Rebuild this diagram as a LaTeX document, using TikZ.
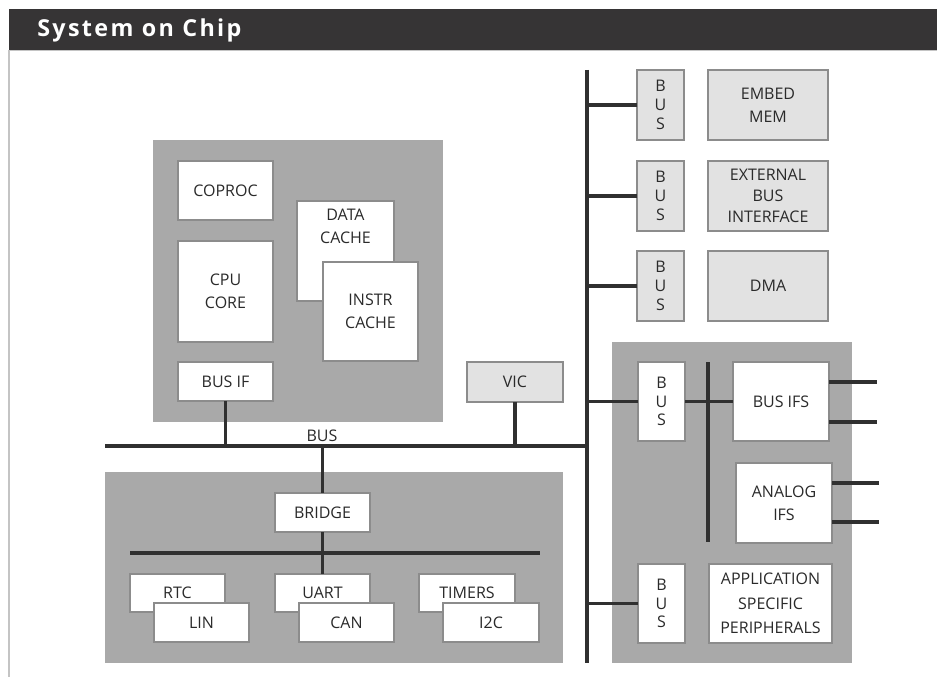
\documentclass[tikz,border=0pt]{standalone}
\usepackage{fontspec}
\setmainfont{Open Sans}
\usetikzlibrary{positioning}
\definecolor{barc}{HTML}{363435}
\definecolor{blockc}{HTML}{A9A9A9}
\definecolor{lightc}{HTML}{E2E2E2}
\definecolor{edgec}{HTML}{8C8C8C}
\definecolor{linec}{HTML}{303030}
\definecolor{txtc}{HTML}{2A2A2A}
\definecolor{framec}{HTML}{C4C4C4}
\newcommand\blk[7]{\node[#6, minimum width={(#4-#2)*0.75pt}, minimum height={(#5-#3)*0.75pt}, anchor=north west] (#1) at (#2,#3) {#7};}
\tikzset{
  base/.style={inner sep=0pt, outer sep=0pt, align=center, text=txtc,
    font=\fontsize{12pt}{17.25pt}\selectfont},
  wbox/.style={base, draw=edgec, line width=0.8pt, fill=white},
  lbox/.style={base, draw=edgec, line width=0.8pt, fill=lightc},
  busv/.style={base, font=\fontsize{12pt}{14pt}\selectfont},
  region/.style={inner sep=0pt, outer sep=0pt, fill=blockc, draw=none},
  busline/.style={draw=linec, line width=2.6pt},
}
\begin{document}
\begin{tikzpicture}[x=0.75pt,y=-0.75pt]
\useasboundingbox (0,0) rectangle (937,677);
\fill[white] (0,0) rectangle (937,677);
% title bar
\fill[barc] (9,9) rectangle (937,50);
\draw[framec, line width=0.8pt] (9,50.5) -- (937,50.5);
\draw[framec, line width=0.9pt] (9,50) -- (9,677);
\node[anchor=west, inner sep=0pt, text=white, font=\fontsize{17.5pt}{19pt}\selectfont\bfseries\addfontfeature{LetterSpace=10}] (title) at (37,30) {System on Chip};

% CPU region
\blk{cpu}{153}{140}{443}{422}{region}{}
\blk{coproc}{178}{161}{273}{220}{wbox}{COPROC}
\blk{cpucore}{178}{241}{273}{342}{wbox}{CPU\\CORE}
\blk{busif}{178}{362}{273}{401}{wbox}{BUS IF}
\blk{dcache}{297}{201}{394}{301}{wbox, label={[base, anchor=north, yshift=-6pt]north:DATA\\CACHE}}{}
\blk{icache}{323}{262}{418}{361}{wbox}{INSTR\\CACHE}
\blk{vic}{467}{362}{563}{402}{lbox}{VIC}

% main bus
\coordinate (busW) at (105,446);
\coordinate (busE) at (587,446);
\coordinate (vtop) at (587,70);
\coordinate (vbot) at (587,663);
\draw[busline] (busW) -- (busE);
\draw[busline] (vtop) -- (vbot);
\node[base, anchor=south] (buslbl) at (322,442) {BUS};
\draw[busline] (busif.south) -- (busif.south |- busW);
\draw[busline] (vic.south) -- (vic.south |- busW);

% peripheral region
\blk{per}{105}{472}{563}{663}{region}{}
\blk{bridge}{275}{493}{370}{532}{wbox}{BRIDGE}
\coordinate (pbW) at (130,553);
\coordinate (pbE) at (540,553);
\draw[busline] (bridge.north |- busW) -- (bridge.north);
\draw[busline] (pbW) -- (pbE);
\blk{rtc}{130}{574}{225}{612}{wbox}{RTC}
\blk{lin}{154}{603}{249}{642}{wbox}{LIN}
\blk{uart}{275}{574}{370}{612}{wbox}{UART}
\blk{can}{299}{603}{394}{642}{wbox}{CAN}
\blk{timers}{419}{574}{515}{612}{wbox}{TIMERS}
\blk{iic}{443}{603}{539}{642}{wbox}{I2C}
\draw[busline] (bridge.south) -- (uart.north);

% right column
\blk{bus1}{637}{70}{684}{140}{lbox,busv}{B\\U\\S}
\blk{bus2}{637}{161}{684}{231}{lbox,busv}{B\\U\\S}
\blk{bus3}{637}{251}{684}{321}{lbox,busv}{B\\U\\S}
\blk{mem}{708}{70}{828}{140}{lbox}{EMBED\\MEM}
\blk{ebi}{708}{161}{828}{231}{lbox, font=\fontsize{12pt}{16pt}\selectfont}{EXTERNAL\\BUS\\INTERFACE}
\blk{dma}{708}{251}{828}{321}{lbox}{DMA}
\draw[busline] (bus1.west) -- (bus1.west -| vtop);
\draw[busline] (bus2.west) -- (bus2.west -| vtop);
\draw[busline] (bus3.west) -- (bus3.west -| vtop);

% I/O region
\blk{io}{612}{342}{852}{663}{region}{}
\blk{bus4}{638}{362}{685}{441}{wbox,busv}{B\\U\\S}
\blk{busifs}{733}{362}{829}{441}{wbox}{BUS IFS}
\blk{analog}{736}{463}{832}{543}{wbox}{ANALOG\\IFS}
\blk{bus5}{638}{564}{685}{643}{wbox,busv}{B\\U\\S}
\blk{asp}{709}{564}{832}{643}{wbox, font=\fontsize{12pt}{18.4pt}\selectfont}{APPLICATION\\SPECIFIC\\PERIPHERALS}
\coordinate (ibT) at (708,362);
\coordinate (ibB) at (708,542);
\draw[busline] (ibT) -- (ibB);
\draw[busline] (bus4.west) -- (bus4.west -| vtop);
\draw[busline] (bus4.east) -- (busifs.west);
\draw[busline] (bus5.west) -- (bus5.west -| vtop);
\coordinate (o1) at (877,382);
\coordinate (o2) at (877,422);
\coordinate (o3) at (879,483);
\coordinate (o4) at (879,522);
\draw[busline] (o1 -| busifs.east) -- (o1);
\draw[busline] (o2 -| busifs.east) -- (o2);
\draw[busline] (o3 -| analog.east) -- (o3);
\draw[busline] (o4 -| analog.east) -- (o4);
\end{tikzpicture}
\end{document}
